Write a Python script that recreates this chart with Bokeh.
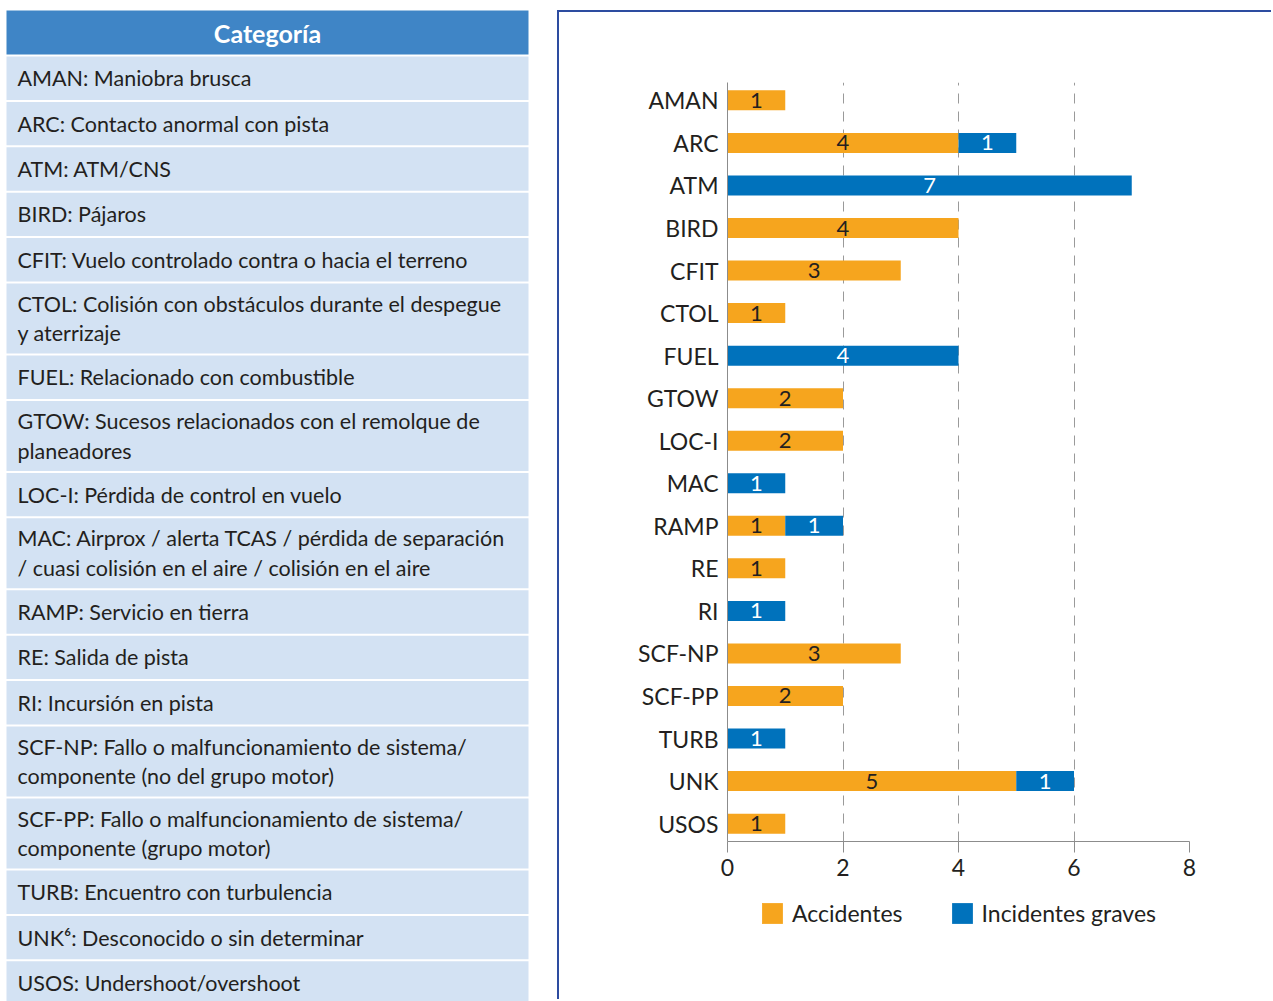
from bokeh.plotting import figure
from bokeh.models import Range1d, FactorRange, Legend, LegendItem, ColumnDataSource
from bokeh.layouts import row, column
from bokeh.embed import file_html
from bokeh.resources import INLINE
from bokeh.core.properties import value

FONT = "Lato"

# ---------------- data ----------------
categories = ["AMAN", "ARC", "ATM", "BIRD", "CFIT", "CTOL", "FUEL", "GTOW", "LOC-I",
              "MAC", "RAMP", "RE", "RI", "SCF-NP", "SCF-PP", "TURB", "UNK", "USOS"]
accidentes = [1, 4, 0, 4, 3, 1, 0, 2, 2, 0, 1, 1, 0, 3, 2, 0, 5, 1]
incidentes_graves = [0, 1, 7, 0, 0, 0, 4, 0, 0, 1, 1, 0, 1, 0, 0, 1, 1, 0]
series_names = ["Accidentes", "Incidentes graves"]
x_ticks = [0, 2, 4, 6, 8]

table_header = "Categoría"
descripciones = [
    "AMAN: Maniobra brusca",
    "ARC: Contacto anormal con pista",
    "ATM: ATM/CNS",
    "BIRD: Pájaros",
    "CFIT: Vuelo controlado contra o hacia el terreno",
    "CTOL: Colisión con obstáculos durante el despegue\ny aterrizaje",
    "FUEL: Relacionado con combustible",
    "GTOW: Sucesos relacionados con el remolque de\nplaneadores",
    "LOC-I: Pérdida de control en vuelo",
    "MAC: Airprox / alerta TCAS / pérdida de separación\n/ cuasi colisión en el aire / colisión en el aire",
    "RAMP: Servicio en tierra",
    "RE: Salida de pista",
    "RI: Incursión en pista",
    "SCF-NP: Fallo o malfuncionamiento de sistema/\ncomponente (no del grupo motor)",
    "SCF-PP: Fallo o malfuncionamiento de sistema/\ncomponente (grupo motor)",
    "TURB: Encuentro con turbulencia",
    "UNK\u2076: Desconocido o sin determinar",
    "USOS: Undershoot/overshoot",
]

# ---------------- styles ----------------
ORANGE = "#F6A51E"
BLUE = "#0072BC"
HEADER_BLUE = "#3F85C6"
ROW_BLUE = "#D3E2F3"
TEXT = "#231F20"
AXIS_GRAY = "#8C8C8C"
BOX_BLUE = "#2D4CA0"

H = 1001

# ---------------- left table ----------------
W1 = 557
TABLE_L, TABLE_R = 6, 528
t = figure(width=W1, height=H, x_range=Range1d(0, W1), y_range=Range1d(H, 0),
           toolbar_location=None, output_backend="svg", min_border=0,
           frame_align=False)
t.axis.visible = False
t.grid.visible = False
t.outline_line_color = None

HEADER_TOP, HEADER_H, GAP = 10, 44, 2
ROW_H, LINE_EXTRA = 43.4, 26.6
n_lines = [d.count("\n") + 1 for d in descripciones]
tops, bottoms = [], []
y = HEADER_TOP + HEADER_H + GAP
for n in n_lines:
    h = ROW_H + LINE_EXTRA * (n - 1)
    tops.append(y)
    bottoms.append(y + h)
    y += h + GAP

t.quad(left=[TABLE_L], right=[TABLE_R], top=[HEADER_TOP],
       bottom=[HEADER_TOP + HEADER_H], fill_color=HEADER_BLUE, line_color=None)
t.text(x=[(TABLE_L + TABLE_R) / 2], y=[HEADER_TOP + HEADER_H / 2], text=[table_header],
       text_font=value(FONT), text_font_size="25px", text_font_style="bold",
       text_color="white", text_align="center", text_baseline="middle")

tsrc = ColumnDataSource(dict(
    left=[TABLE_L] * len(tops), right=[TABLE_R] * len(tops), top=tops, bottom=bottoms,
    cy=[(a + b) / 2 for a, b in zip(tops, bottoms)], tx=[TABLE_L + 11] * len(tops),
    text=descripciones))
t.quad(left="left", right="right", top="top", bottom="bottom", source=tsrc,
       fill_color=ROW_BLUE, line_color=None)
t.text(x="tx", y="cy", text="text", source=tsrc, text_font=value(FONT),
       text_font_size="21.5px", text_color=TEXT, text_baseline="middle",
       text_line_height=1.15)

# ---------------- right chart ----------------
W2 = 714
p = figure(width=W2, height=879,
           y_range=FactorRange(factors=categories[::-1], range_padding=-0.08,
                               range_padding_units="absolute"),
           x_range=Range1d(0, 8), toolbar_location=None, output_backend="svg",
           min_border_left=168, min_border_right=84, min_border_top=70,
           min_border_bottom=50, frame_align=False,
           styles={"border-left": f"2px solid {BOX_BLUE}",
                   "border-top": f"2px solid {BOX_BLUE}",
                   "margin-top": "10px"})
p.outline_line_color = None

src = ColumnDataSource(dict(cat=categories, acc=accidentes, inc=incidentes_graves))
rs = p.hbar_stack(["acc", "inc"], y="cat", height=0.47, color=[ORANGE, BLUE],
                  line_color=None, source=src)

lx, ly, lt, lc = [], [], [], []
for c, a, i in zip(categories, accidentes, incidentes_graves):
    if a > 0:
        lx.append(a / 2); ly.append(c); lt.append(str(a)); lc.append(TEXT)
    if i > 0:
        lx.append(a + i / 2); ly.append(c); lt.append(str(i)); lc.append("white")
p.text(x=lx, y=ly, text=lt, text_color=lc, text_font=value(FONT),
       text_font_size="22px", text_align="center", text_baseline="middle")

p.ygrid.visible = False
p.xgrid.grid_line_color = "#9A9A9A"
p.xgrid.grid_line_dash = "10 8"
p.xgrid.grid_line_width = 1

p.xaxis.ticker = x_ticks
p.xaxis.axis_line_color = AXIS_GRAY
p.xaxis.major_tick_line_color = AXIS_GRAY
p.xaxis.major_tick_out = 11
p.xaxis.major_tick_in = 0
p.xaxis.minor_tick_line_color = None
p.xaxis.major_label_text_font = FONT
p.xaxis.major_label_text_font_size = "23px"
p.xaxis.major_label_text_color = TEXT
p.xaxis.major_label_standoff = 6

p.yaxis.axis_line_color = AXIS_GRAY
p.yaxis.major_tick_line_color = None
p.yaxis.major_tick_out = 0
p.yaxis.major_tick_in = 0
p.yaxis.minor_tick_line_color = None
p.yaxis.major_label_text_font = FONT
p.yaxis.major_label_text_font_size = "23px"
p.yaxis.major_label_text_color = TEXT
p.yaxis.major_label_standoff = 9

# ---------------- legend strip ----------------
# legend keys come from hidden copies of the same two series
LH = 110
lf = figure(width=W2, height=LH, x_range=Range1d(0, 8),
            y_range=FactorRange(factors=categories[::-1]),
            toolbar_location=None, output_backend="svg", min_border=0,
            frame_align=False,
            styles={"border-left": f"2px solid {BOX_BLUE}"})
lf.axis.visible = False
lf.grid.visible = False
lf.outline_line_color = None
ks = lf.hbar_stack(["acc", "inc"], y="cat", height=0.47, color=[ORANGE, BLUE],
                   line_color=None, source=src)
for k in ks:
    k.visible = False
legend = Legend(items=[LegendItem(label=series_names[0], renderers=[ks[0]]),
                       LegendItem(label=series_names[1], renderers=[ks[1]])],
                orientation="horizontal", location=(200, 72),
                glyph_width=26, glyph_height=26, label_standoff=7, spacing=46,
                label_text_font=FONT, label_text_font_size="23px",
                label_text_color=TEXT, border_line_color=None,
                background_fill_alpha=0, padding=0, margin=0,
                click_policy="none")
lf.add_layout(legend)

layout = row(t, column(p, lf, spacing=0), spacing=0)
open("out.html", "w").write(file_html(layout, INLINE))
